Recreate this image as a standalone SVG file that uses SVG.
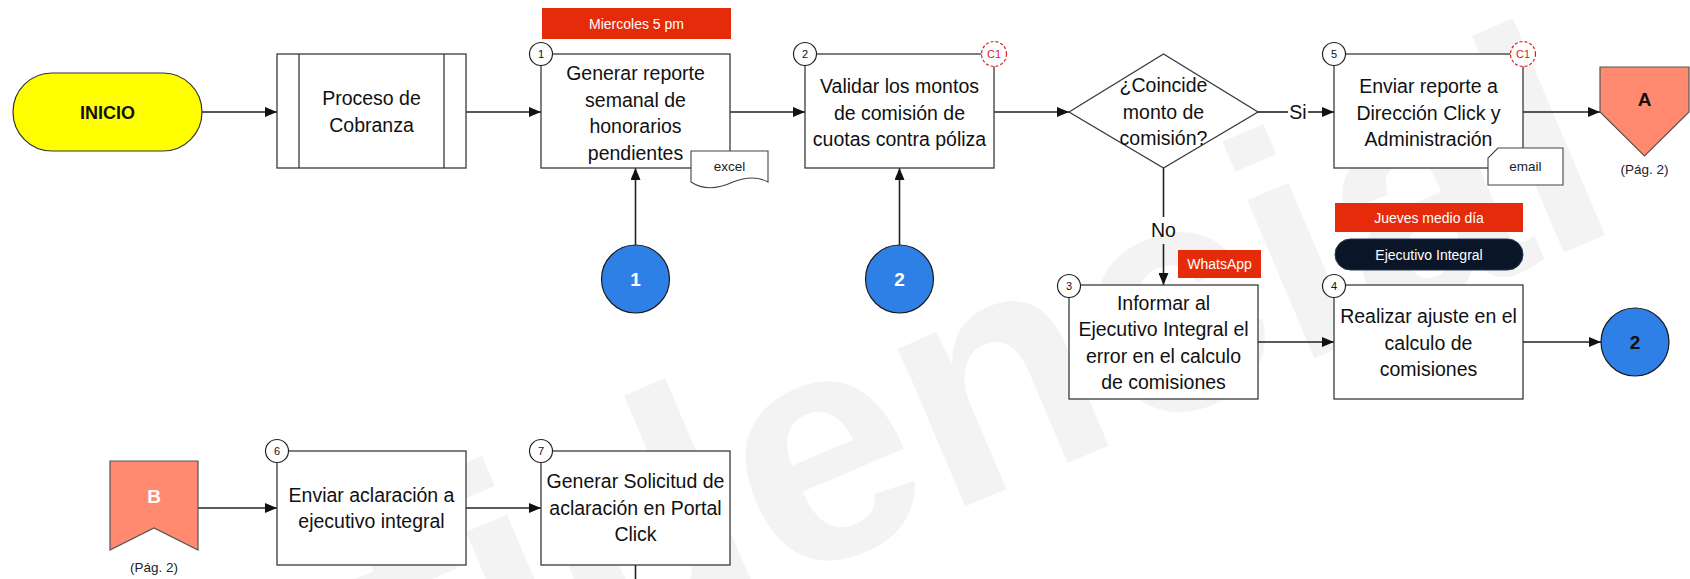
<svg xmlns="http://www.w3.org/2000/svg" width="1690" height="579" viewBox="0 0 1690 579">
<style>
text{font-family:"Liberation Sans",Arial,sans-serif;text-anchor:middle}
.box{fill:#fff;stroke:#3a3a3a;stroke-width:1.3}
.t{font-size:19.5px;fill:#111}
.num{fill:#fff;stroke:#222;stroke-width:1.2}
.numt{font-size:11px;fill:#111}
.c1{fill:#fff;stroke:#E0201B;stroke-width:1.2;stroke-dasharray:3 2}
.c1t{font-size:11px;fill:#E0201B}
.red{fill:#E52B0A}
.lbl{font-size:14px;fill:#fff}
.conn{stroke:#222;stroke-width:1.6;fill:none}
.blue{fill:#2E7FE6;stroke:#1a1a1a;stroke-width:1.2}
.sal{fill:#FF8A70;stroke:#555;stroke-width:1.2}
.small{font-size:13.5px;fill:#222}
.wm{font-size:325px;font-weight:bold;fill:#F3F3F3;text-anchor:start}
</style>
<defs>
<marker id="arr" viewBox="0 0 12 10" refX="12" refY="5" markerWidth="12" markerHeight="10" markerUnits="userSpaceOnUse" orient="auto">
<path d="M0,0 L12,5 L0,10 z" fill="#111"/>
</marker>
</defs>
<rect width="1690" height="579" fill="#fff"/>
<g id="watermark"><text class="wm" x="-169" y="988" transform="rotate(-23 -169 988)">Confidencial</text></g>

<g id="connectors">
<line class="conn" x1="202" y1="112" x2="277" y2="112" marker-end="url(#arr)"/>
<line class="conn" x1="466" y1="112" x2="541" y2="112" marker-end="url(#arr)"/>
<line class="conn" x1="730" y1="112" x2="805" y2="112" marker-end="url(#arr)"/>
<line class="conn" x1="994" y1="112" x2="1069" y2="112" marker-end="url(#arr)"/>
<line class="conn" x1="1258" y1="112" x2="1288" y2="112"/>
<line class="conn" x1="1308" y1="112" x2="1334" y2="112" marker-end="url(#arr)"/>
<text class="t" x="1298" y="119">Si</text>
<line class="conn" x1="1523" y1="112" x2="1600" y2="112" marker-end="url(#arr)"/>
<line class="conn" x1="1163.5" y1="168" x2="1163.5" y2="217"/>
<line class="conn" x1="1163.5" y1="244" x2="1163.5" y2="285" marker-end="url(#arr)"/>
<text class="t" x="1163.5" y="237">No</text>
<line class="conn" x1="635.5" y1="245" x2="635.5" y2="168" marker-end="url(#arr)"/>
<line class="conn" x1="899.5" y1="245" x2="899.5" y2="168" marker-end="url(#arr)"/>
<line class="conn" x1="1258" y1="342" x2="1334" y2="342" marker-end="url(#arr)"/>
<line class="conn" x1="1523" y1="342" x2="1601" y2="342" marker-end="url(#arr)"/>
<line class="conn" x1="198" y1="508" x2="277" y2="508" marker-end="url(#arr)"/>
<line class="conn" x1="466" y1="508" x2="541" y2="508" marker-end="url(#arr)"/>
<line class="conn" x1="635.5" y1="565" x2="635.5" y2="579"/>
</g>

<g id="inicio">
<rect x="13" y="73" width="189" height="78" rx="39" fill="#FFFF00" stroke="#333" stroke-width="1.2"/>
<text x="107.5" y="118.5" font-size="18" font-weight="bold" fill="#111">INICIO</text>
</g>

<g id="proceso-cobranza">
<rect class="box" x="277" y="54" width="189" height="114"/>
<line x1="299" y1="54" x2="299" y2="168" stroke="#3a3a3a" stroke-width="1.3"/>
<line x1="444" y1="54" x2="444" y2="168" stroke="#3a3a3a" stroke-width="1.3"/>
<text class="t" x="371.5" y="105">Proceso de</text>
<text class="t" x="371.5" y="131.5">Cobranza</text>
</g>

<g id="label-miercoles">
<rect class="red" x="542" y="8" width="189" height="31"/>
<text class="lbl" x="636.5" y="28.5">Miercoles 5 pm</text>
</g>

<g id="step1">
<rect class="box" x="541" y="54" width="189" height="114"/>
<text class="t" x="635.5" y="80">Generar reporte</text>
<text class="t" x="635.5" y="106.5">semanal de</text>
<text class="t" x="635.5" y="133">honorarios</text>
<text class="t" x="635.5" y="159.5">pendientes</text>
<path d="M691,151 H768 V182 C757,176 746,177 733,182 C718,189 703,190 691,182 Z" fill="#fff" stroke="#444" stroke-width="1.1"/>
<text class="small" x="729.5" y="171">excel</text>
<circle class="num" cx="541" cy="54" r="11.5"/>
<text class="numt" x="541" y="58">1</text>
</g>

<g id="step2">
<rect class="box" x="805" y="54" width="189" height="114"/>
<text class="t" x="899.5" y="93">Validar los montos</text>
<text class="t" x="899.5" y="119.5">de comisión de</text>
<text class="t" x="899.5" y="146">cuotas contra póliza</text>
<circle class="num" cx="805" cy="54" r="11.5"/>
<text class="numt" x="805" y="58">2</text>
<circle class="c1" cx="994" cy="54" r="12.5"/>
<text class="c1t" x="994" y="58">C1</text>
</g>

<g id="decision">
<polygon points="1069,112 1163.5,54 1258,112 1163.5,168" fill="#fff" stroke="#3a3a3a" stroke-width="1.3"/>
<text class="t" x="1163.5" y="92">¿Coincide</text>
<text class="t" x="1163.5" y="118.5">monto de</text>
<text class="t" x="1163.5" y="145">comisión?</text>
</g>

<g id="step5">
<rect class="box" x="1334" y="54" width="189" height="114"/>
<text class="t" x="1428.5" y="93">Enviar reporte a</text>
<text class="t" x="1428.5" y="119.5">Dirección Click y</text>
<text class="t" x="1428.5" y="146">Administración</text>
<path d="M1498,148 H1563 V185 H1488 V158 Z" fill="#fff" stroke="#444" stroke-width="1.1"/>
<text class="small" x="1525.5" y="171">email</text>
<circle class="num" cx="1334" cy="54" r="11.5"/>
<text class="numt" x="1334" y="58">5</text>
<circle class="c1" cx="1523" cy="54" r="12.5"/>
<text class="c1t" x="1523" y="58">C1</text>
</g>

<g id="connector-a">
<polygon class="sal" points="1600,67 1689,67 1689,112 1644.5,156 1600,112"/>
<text x="1644.5" y="106" font-size="19" font-weight="bold" fill="#111">A</text>
<text class="small" x="1644.5" y="174">(Pág. 2)</text>
</g>

<g id="label-whatsapp">
<rect class="red" x="1178" y="250" width="83" height="28"/>
<text class="lbl" x="1219.5" y="269">WhatsApp</text>
</g>

<g id="step3">
<rect class="box" x="1069" y="285" width="189" height="114"/>
<text class="t" x="1163.5" y="309.5">Informar al</text>
<text class="t" x="1163.5" y="336">Ejecutivo Integral el</text>
<text class="t" x="1163.5" y="362.5">error en el calculo</text>
<text class="t" x="1163.5" y="389">de comisiones</text>
<circle class="num" cx="1069" cy="286" r="11.5"/>
<text class="numt" x="1069" y="290">3</text>
</g>

<g id="label-jueves">
<rect class="red" x="1335" y="203" width="188" height="29"/>
<text class="lbl" x="1429" y="222.5">Jueves medio día</text>
</g>

<g id="role-ejecutivo">
<rect x="1335" y="239" width="188" height="31" rx="15.5" fill="#0A1628" stroke="#24364f" stroke-width="1"/>
<text class="lbl" x="1429" y="259.5">Ejecutivo Integral</text>
</g>

<g id="step4">
<rect class="box" x="1334" y="285" width="189" height="114"/>
<text class="t" x="1428.5" y="323">Realizar ajuste en el</text>
<text class="t" x="1428.5" y="349.5">calculo de</text>
<text class="t" x="1428.5" y="376">comisiones</text>
<circle class="num" cx="1334" cy="286" r="11.5"/>
<text class="numt" x="1334" y="290">4</text>
</g>

<g id="conn-circle-1">
<circle class="blue" cx="635.5" cy="279" r="34"/>
<text x="635.5" y="286" font-size="19" font-weight="bold" fill="#fff">1</text>
</g>
<g id="conn-circle-2a">
<circle class="blue" cx="899.5" cy="279" r="34"/>
<text x="899.5" y="286" font-size="19" font-weight="bold" fill="#fff">2</text>
</g>
<g id="conn-circle-2b">
<circle class="blue" cx="1635" cy="342" r="34"/>
<text x="1635" y="349" font-size="19" font-weight="bold" fill="#111">2</text>
</g>

<g id="connector-b">
<polygon class="sal" points="110,461 198,461 198,550 154,528 110,550"/>
<text x="154" y="503" font-size="19" font-weight="bold" fill="#fff">B</text>
<text class="small" x="154" y="572">(Pág. 2)</text>
</g>

<g id="step6">
<rect class="box" x="277" y="451" width="189" height="114"/>
<text class="t" x="371.5" y="501.5">Enviar aclaración a</text>
<text class="t" x="371.5" y="528">ejecutivo integral</text>
<circle class="num" cx="277" cy="451" r="11.5"/>
<text class="numt" x="277" y="455">6</text>
</g>

<g id="step7">
<rect class="box" x="541" y="451" width="189" height="114"/>
<text class="t" x="635.5" y="488">Generar Solicitud de</text>
<text class="t" x="635.5" y="514.5">aclaración en Portal</text>
<text class="t" x="635.5" y="541">Click</text>
<circle class="num" cx="541" cy="451" r="11.5"/>
<text class="numt" x="541" y="455">7</text>
</g>
</svg>
